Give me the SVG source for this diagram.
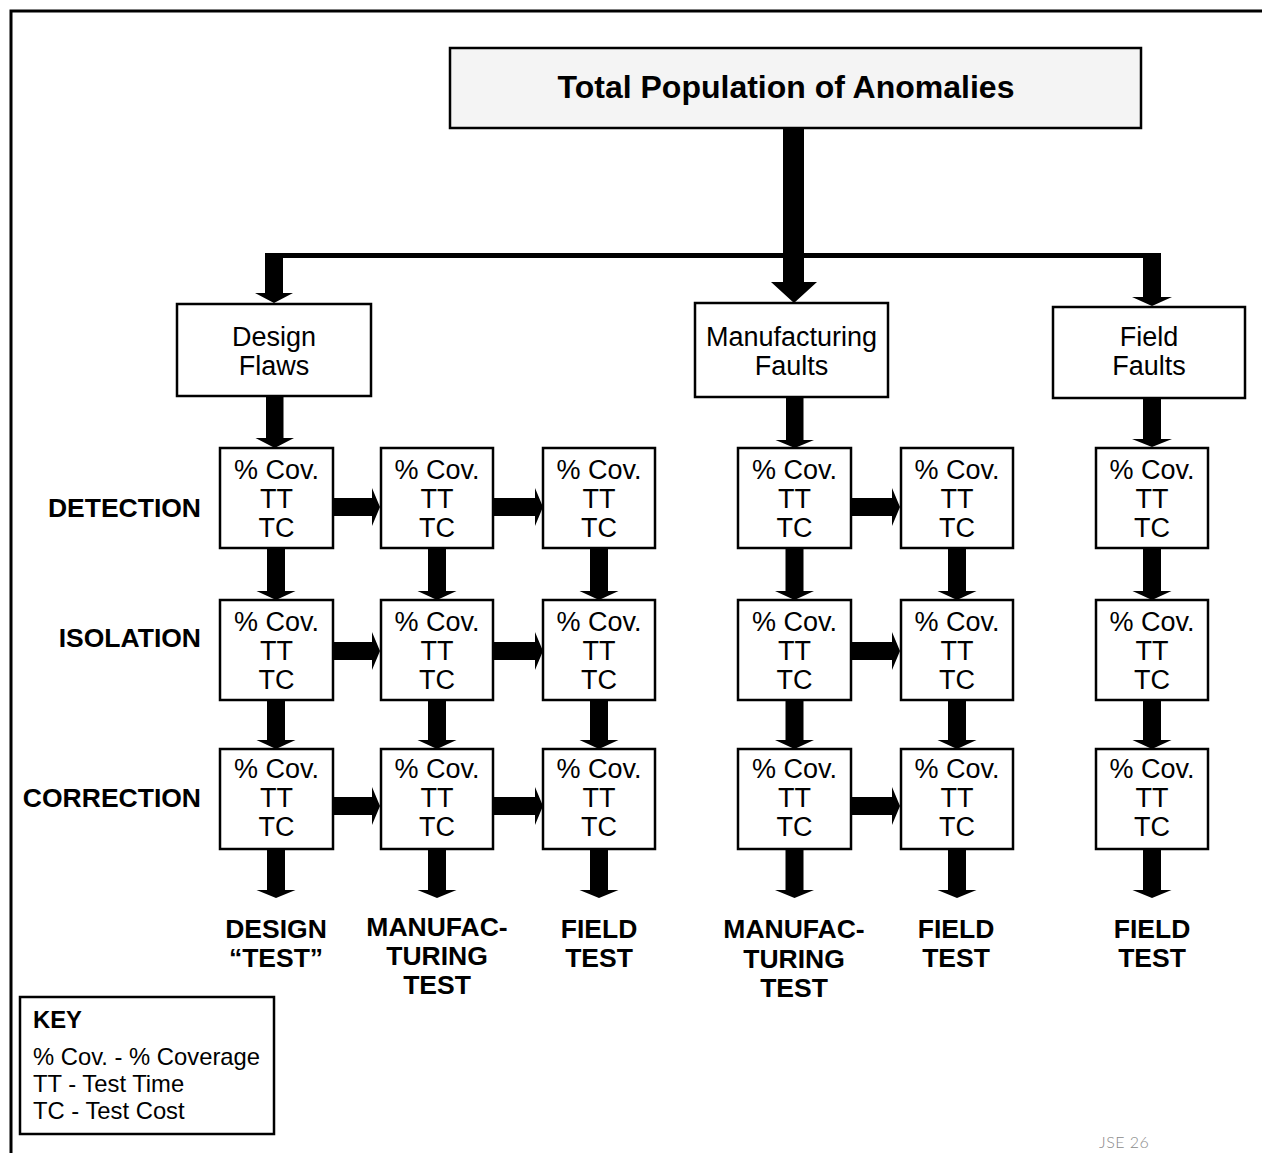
<svg xmlns="http://www.w3.org/2000/svg" width="1262" height="1153" viewBox="0 0 1262 1153">
  <style>
    .box { fill: #ffffff; stroke: #000000; stroke-width: 2.5; }
    .title-box { fill: #f4f4f4; stroke: #000000; stroke-width: 2.5; }
    .t { font-family: "Liberation Sans", Arial, Helvetica, sans-serif; fill: #000000; text-anchor: middle; }
    .cell { font-size: 27px; }
    .lbl { font-size: 27px; }
    .b { font-weight: bold; font-size: 26.5px; }
    .row { text-anchor: end; }
    .key { font-family: "Liberation Sans", Arial, Helvetica, sans-serif; fill: #000000; font-size: 23.8px; }
    .arrow { fill: #000000; stroke: none; }
  </style>

  <!-- open frame: top and left rules -->
  <path d="M 11 1153 V 11 H 1262" fill="none" stroke="#000000" stroke-width="3"/>

  <!-- root -->
  <g id="total-population">
    <rect class="title-box" x="450" y="48" width="691" height="80"/>
    <text class="t" x="786" y="98" font-size="32" font-weight="bold">Total Population of Anomalies</text>
  </g>

  <!-- anomaly categories -->
  <g id="design-flaws">
    <rect class="box" x="177" y="304" width="194" height="92"/>
    <text class="t lbl" x="274" y="346">Design</text>
    <text class="t lbl" x="274" y="375">Flaws</text>
  </g>
  <g id="manufacturing-faults">
    <rect class="box" x="695" y="303" width="193" height="94"/>
    <text class="t lbl" x="791.5" y="346">Manufacturing</text>
    <text class="t lbl" x="791.5" y="375">Faults</text>
  </g>
  <g id="field-faults">
    <rect class="box" x="1053" y="307" width="192" height="91"/>
    <text class="t lbl" x="1149" y="346">Field</text>
    <text class="t lbl" x="1149" y="375">Faults</text>
  </g>

  <!-- row labels -->
  <g id="row-labels">
    <text class="t b row" x="201" y="517">DETECTION</text>
    <text class="t b row" x="201" y="647">ISOLATION</text>
    <text class="t b row" x="201" y="807">CORRECTION</text>
  </g>

  <!-- detection row -->
  <g id="det-1"><rect class="box" x="220" y="448" width="113" height="100"/>
    <text class="t cell" x="276.5" y="479">% Cov.</text><text class="t cell" x="276.5" y="508">TT</text><text class="t cell" x="276.5" y="537">TC</text></g>
  <g id="det-2"><rect class="box" x="381" y="448" width="112" height="100"/>
    <text class="t cell" x="437" y="479">% Cov.</text><text class="t cell" x="437" y="508">TT</text><text class="t cell" x="437" y="537">TC</text></g>
  <g id="det-3"><rect class="box" x="543" y="448" width="112" height="100"/>
    <text class="t cell" x="599" y="479">% Cov.</text><text class="t cell" x="599" y="508">TT</text><text class="t cell" x="599" y="537">TC</text></g>
  <g id="det-4"><rect class="box" x="738" y="448" width="113" height="100"/>
    <text class="t cell" x="794.5" y="479">% Cov.</text><text class="t cell" x="794.5" y="508">TT</text><text class="t cell" x="794.5" y="537">TC</text></g>
  <g id="det-5"><rect class="box" x="901" y="448" width="112" height="100"/>
    <text class="t cell" x="957" y="479">% Cov.</text><text class="t cell" x="957" y="508">TT</text><text class="t cell" x="957" y="537">TC</text></g>
  <g id="det-6"><rect class="box" x="1096" y="448" width="112" height="100"/>
    <text class="t cell" x="1152" y="479">% Cov.</text><text class="t cell" x="1152" y="508">TT</text><text class="t cell" x="1152" y="537">TC</text></g>

  <!-- isolation row -->
  <g id="iso-1"><rect class="box" x="220" y="600" width="113" height="100"/>
    <text class="t cell" x="276.5" y="631">% Cov.</text><text class="t cell" x="276.5" y="660">TT</text><text class="t cell" x="276.5" y="689">TC</text></g>
  <g id="iso-2"><rect class="box" x="381" y="600" width="112" height="100"/>
    <text class="t cell" x="437" y="631">% Cov.</text><text class="t cell" x="437" y="660">TT</text><text class="t cell" x="437" y="689">TC</text></g>
  <g id="iso-3"><rect class="box" x="543" y="600" width="112" height="100"/>
    <text class="t cell" x="599" y="631">% Cov.</text><text class="t cell" x="599" y="660">TT</text><text class="t cell" x="599" y="689">TC</text></g>
  <g id="iso-4"><rect class="box" x="738" y="600" width="113" height="100"/>
    <text class="t cell" x="794.5" y="631">% Cov.</text><text class="t cell" x="794.5" y="660">TT</text><text class="t cell" x="794.5" y="689">TC</text></g>
  <g id="iso-5"><rect class="box" x="901" y="600" width="112" height="100"/>
    <text class="t cell" x="957" y="631">% Cov.</text><text class="t cell" x="957" y="660">TT</text><text class="t cell" x="957" y="689">TC</text></g>
  <g id="iso-6"><rect class="box" x="1096" y="600" width="112" height="100"/>
    <text class="t cell" x="1152" y="631">% Cov.</text><text class="t cell" x="1152" y="660">TT</text><text class="t cell" x="1152" y="689">TC</text></g>

  <!-- correction row -->
  <g id="cor-1"><rect class="box" x="220" y="749" width="113" height="100"/>
    <text class="t cell" x="276.5" y="778">% Cov.</text><text class="t cell" x="276.5" y="807">TT</text><text class="t cell" x="276.5" y="836">TC</text></g>
  <g id="cor-2"><rect class="box" x="381" y="749" width="112" height="100"/>
    <text class="t cell" x="437" y="778">% Cov.</text><text class="t cell" x="437" y="807">TT</text><text class="t cell" x="437" y="836">TC</text></g>
  <g id="cor-3"><rect class="box" x="543" y="749" width="112" height="100"/>
    <text class="t cell" x="599" y="778">% Cov.</text><text class="t cell" x="599" y="807">TT</text><text class="t cell" x="599" y="836">TC</text></g>
  <g id="cor-4"><rect class="box" x="738" y="749" width="113" height="100"/>
    <text class="t cell" x="794.5" y="778">% Cov.</text><text class="t cell" x="794.5" y="807">TT</text><text class="t cell" x="794.5" y="836">TC</text></g>
  <g id="cor-5"><rect class="box" x="901" y="749" width="112" height="100"/>
    <text class="t cell" x="957" y="778">% Cov.</text><text class="t cell" x="957" y="807">TT</text><text class="t cell" x="957" y="836">TC</text></g>
  <g id="cor-6"><rect class="box" x="1096" y="749" width="112" height="100"/>
    <text class="t cell" x="1152" y="778">% Cov.</text><text class="t cell" x="1152" y="807">TT</text><text class="t cell" x="1152" y="836">TC</text></g>

  <!-- test outcome labels -->
  <g id="out-design"><text class="t b" x="276" y="938">DESIGN</text><text class="t b" x="276" y="967">“TEST”</text></g>
  <g id="out-mfg-1"><text class="t b" x="437" y="936">MANUFAC-</text><text class="t b" x="437" y="965">TURING</text><text class="t b" x="437" y="994">TEST</text></g>
  <g id="out-field-1"><text class="t b" x="599" y="938">FIELD</text><text class="t b" x="599" y="967">TEST</text></g>
  <g id="out-mfg-2"><text class="t b" x="794" y="938">MANUFAC-</text><text class="t b" x="794" y="968">TURING</text><text class="t b" x="794" y="997">TEST</text></g>
  <g id="out-field-2"><text class="t b" x="956" y="938">FIELD</text><text class="t b" x="956" y="967">TEST</text></g>
  <g id="out-field-3"><text class="t b" x="1152" y="938">FIELD</text><text class="t b" x="1152" y="967">TEST</text></g>

  <!-- connectors -->
  <g id="connectors" class="arrow">
    <!-- trunk and distribution bar -->
    <polygon points="783,128 804,128 804,282 817,282 794,303 771,282 783,282"/>
    <rect x="265" y="253" width="896" height="5"/>
    <polygon points="265,253 283,253 283,293 293,293 274,303 255,293 265,293"/>
    <polygon points="1143,253 1161,253 1161,297 1172,297 1152,306 1132,297 1143,297"/>

    <!-- category to detection -->
    <polygon points="266,396 283.5,396 283.5,438 294,438 274.75,448 255.5,438 266,438"/>
    <polygon points="786,397 803.5,397 803.5,440 814,440 794.75,448 775.5,440 786,440"/>
    <polygon points="1143,398 1161,398 1161,439 1172,439 1152,447 1132,439 1143,439"/>

    <!-- detection to isolation -->
    <polygon points="267,548 285,548 285,591 295.5,591 276,600 256.5,591 267,591"/>
    <polygon points="428,548 446,548 446,591 456.5,591 437,600 417.5,591 428,591"/>
    <polygon points="590,548 608,548 608,591 618.5,591 599,600 579.5,591 590,591"/>
    <polygon points="785.5,548 803.5,548 803.5,591 814,591 794.5,600 775,591 785.5,591"/>
    <polygon points="948,548 966,548 966,591 976.5,591 957,600 937.5,591 948,591"/>
    <polygon points="1143,548 1161,548 1161,591 1171.5,591 1152,600 1132.5,591 1143,591"/>

    <!-- isolation to correction -->
    <polygon points="267,700 285,700 285,740 295.5,740 276,749 256.5,740 267,740"/>
    <polygon points="428,700 446,700 446,740 456.5,740 437,749 417.5,740 428,740"/>
    <polygon points="590,700 608,700 608,740 618.5,740 599,749 579.5,740 590,740"/>
    <polygon points="785.5,700 803.5,700 803.5,740 814,740 794.5,749 775,740 785.5,740"/>
    <polygon points="948,700 966,700 966,740 976.5,740 957,749 937.5,740 948,740"/>
    <polygon points="1143,700 1161,700 1161,740 1171.5,740 1152,749 1132.5,740 1143,740"/>

    <!-- correction to outcome -->
    <polygon points="267,849 285,849 285,890 295.5,890 276,898 256.5,890 267,890"/>
    <polygon points="428,849 446,849 446,890 456.5,890 437,898 417.5,890 428,890"/>
    <polygon points="590,849 608,849 608,890 618.5,890 599,898 579.5,890 590,890"/>
    <polygon points="785.5,849 803.5,849 803.5,890 814,890 794.5,898 775,890 785.5,890"/>
    <polygon points="948,849 966,849 966,890 976.5,890 957,898 937.5,890 948,890"/>
    <polygon points="1143,849 1161,849 1161,890 1171.5,890 1152,898 1132.5,890 1143,890"/>

    <!-- detection row, left to right -->
    <polygon points="333,498 372,498 372,488 380,507 372,526 372,516 333,516"/>
    <polygon points="493,498 535,498 535,488 543,507 535,526 535,516 493,516"/>
    <polygon points="851,498 892,498 892,488 900,507 892,526 892,516 851,516"/>

    <!-- isolation row, left to right -->
    <polygon points="333,642 372,642 372,632 380,651 372,670 372,660 333,660"/>
    <polygon points="493,642 535,642 535,632 543,651 535,670 535,660 493,660"/>
    <polygon points="851,642 892,642 892,632 900,651 892,670 892,660 851,660"/>

    <!-- correction row, left to right -->
    <polygon points="333,797 372,797 372,787 380,806 372,825 372,815 333,815"/>
    <polygon points="493,797 535,797 535,787 543,806 535,825 535,815 493,815"/>
    <polygon points="851,797 892,797 892,787 900,806 892,825 892,815 851,815"/>
  </g>

  <!-- legend -->
  <g id="key">
    <rect class="box" x="20" y="997" width="254" height="137"/>
    <text class="key" x="33" y="1028" font-weight="bold" font-size="21.5">KEY</text>
    <text class="key" x="33" y="1065">% Cov. - % Coverage</text>
    <text class="key" x="33" y="1092">TT - Test Time</text>
    <text class="key" x="33" y="1119">TC - Test Cost</text>
  </g>

  <text x="1099" y="1148" font-family="Lato, 'Open Sans', sans-serif" font-weight="300" font-size="16" letter-spacing="0.5" fill="#8a8a8a">JSE 26</text>
</svg>
